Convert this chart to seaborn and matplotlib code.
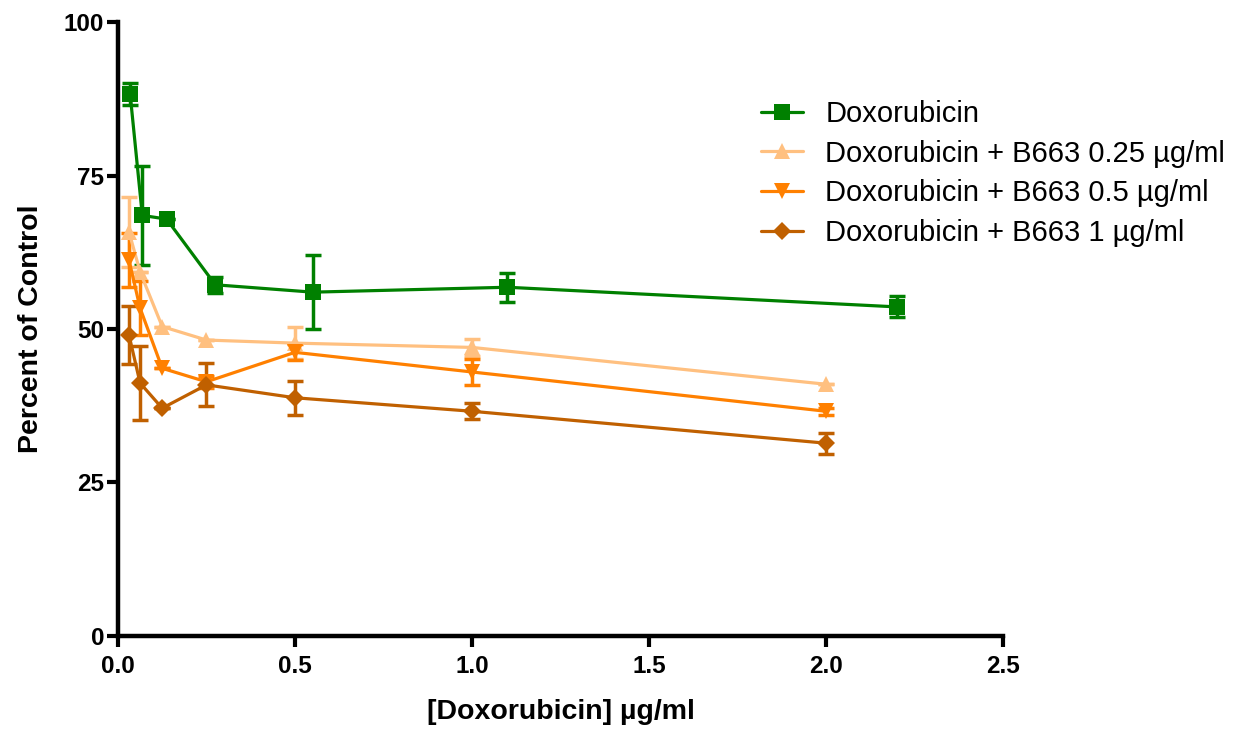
import numpy as np
import pandas as pd
import matplotlib
matplotlib.use("Agg")
import matplotlib.pyplot as plt
import seaborn as sns

# Doxorubicin alone
dox_x = [0.034375, 0.06875, 0.1375, 0.275, 0.55, 1.1, 2.2]
dox_y = [88.3, 68.5, 67.9, 57.2, 56.0, 56.8, 53.6]
dox_err = [1.8, 8.0, 0.0, 1.3, 6.0, 2.4, 1.7]

# combinations with B663
combo_x = [0.03125, 0.0625, 0.125, 0.25, 0.5, 1.0, 2.0]
b025_y = [65.8, 59.3, 50.4, 48.2, 47.7, 47.0, 41.0]
b025_err = [5.7, 0.0, 0.0, 0.0, 2.6, 1.4, 0.0]
b05_y = [61.2, 53.4, 43.6, 41.4, 46.2, 43.0, 36.6]
b05_err = [4.4, 4.4, 0.0, 1.0, 1.3, 2.1, 0.6]
b1_y = [49.0, 41.2, 37.1, 40.9, 38.8, 36.6, 31.4]
b1_err = [4.7, 6.0, 0.0, 3.5, 2.8, 1.3, 1.7]

labels = [
    "Doxorubicin",
    "Doxorubicin + B663 0.25 \u00b5g/ml",
    "Doxorubicin + B663 0.5 \u00b5g/ml",
    "Doxorubicin + B663 1 \u00b5g/ml",
]
colors = ["#008000", "#FFC080", "#FF8000", "#C06000"]
markers = ["s", "^", "v", "D"]
msizes = [11, 11, 11, 9.5]

series = [
    (dox_x, dox_y, dox_err),
    (combo_x, b025_y, b025_err),
    (combo_x, b05_y, b05_err),
    (combo_x, b1_y, b1_err),
]

frames = []
for lab, (xs, ys, es) in zip(labels, series):
    frames.append(pd.DataFrame({"dose": xs, "pct": ys, "err": es, "group": lab}))
df = pd.concat(frames, ignore_index=True)

sns.set_style("ticks")
plt.rcParams["font.family"] = ["Liberation Sans", "DejaVu Sans"]
plt.rcParams["text.color"] = "black"
plt.rcParams["axes.labelcolor"] = "black"
plt.rcParams["xtick.color"] = "black"
plt.rcParams["ytick.color"] = "black"

fig = plt.figure(figsize=(12.39, 7.29), dpi=100)
ax = fig.add_axes([0.0952, 0.1276, 0.7143, 0.8422])

for lab, col, mk, ms in zip(labels, colors, markers, msizes):
    sub = df[df["group"] == lab]
    ax.errorbar(sub["dose"], sub["pct"], yerr=sub["err"], fmt="none",
                ecolor=col, elinewidth=2.5, capsize=6, capthick=2.5, zorder=2)
    sns.lineplot(data=sub, x="dose", y="pct", color=col, marker=mk,
                 markersize=ms, markeredgewidth=0, linewidth=2.3,
                 label=lab, ax=ax, zorder=3, errorbar=None, sort=False)

ax.set_xlim(0, 2.5)
ax.set_ylim(0, 100)
ax.set_xticks([0.0, 0.5, 1.0, 1.5, 2.0, 2.5])
ax.set_xticklabels(["0.0", "0.5", "1.0", "1.5", "2.0", "2.5"])
ax.set_yticks([0, 25, 50, 75, 100])
ax.margins(0)

for side in ["top", "right"]:
    ax.spines[side].set_visible(False)
for side in ["left", "bottom"]:
    ax.spines[side].set_linewidth(3.2)
    ax.spines[side].set_color("black")
    ax.spines[side].set_capstyle("projecting")

ax.tick_params(axis="both", width=3, length=8, color="black",
               labelcolor="black", labelsize=17.5)
ax.tick_params(axis="y", pad=2)
ax.tick_params(axis="x", pad=6)
for t in ax.get_xticklabels() + ax.get_yticklabels():
    t.set_fontweight("bold")

ax.set_xlabel("[Doxorubicin] \u00b5g/ml", fontsize=20.5, fontweight="bold",
              labelpad=15, color="black")
ax.set_ylabel("Percent of Control", fontsize=20.5, fontweight="bold",
              labelpad=14, color="black")

handles, hl = ax.get_legend_handles_labels()
leg = ax.legend(handles, hl, loc="upper left", bbox_to_anchor=(0.593, 0.899),
                bbox_transform=fig.transFigure, frameon=False, fontsize=21,
                handlelength=1.45, handletextpad=0.75, labelspacing=0.4)
for t in leg.get_texts():
    t.set_color("black")

fig.savefig("out.png", dpi=100)
